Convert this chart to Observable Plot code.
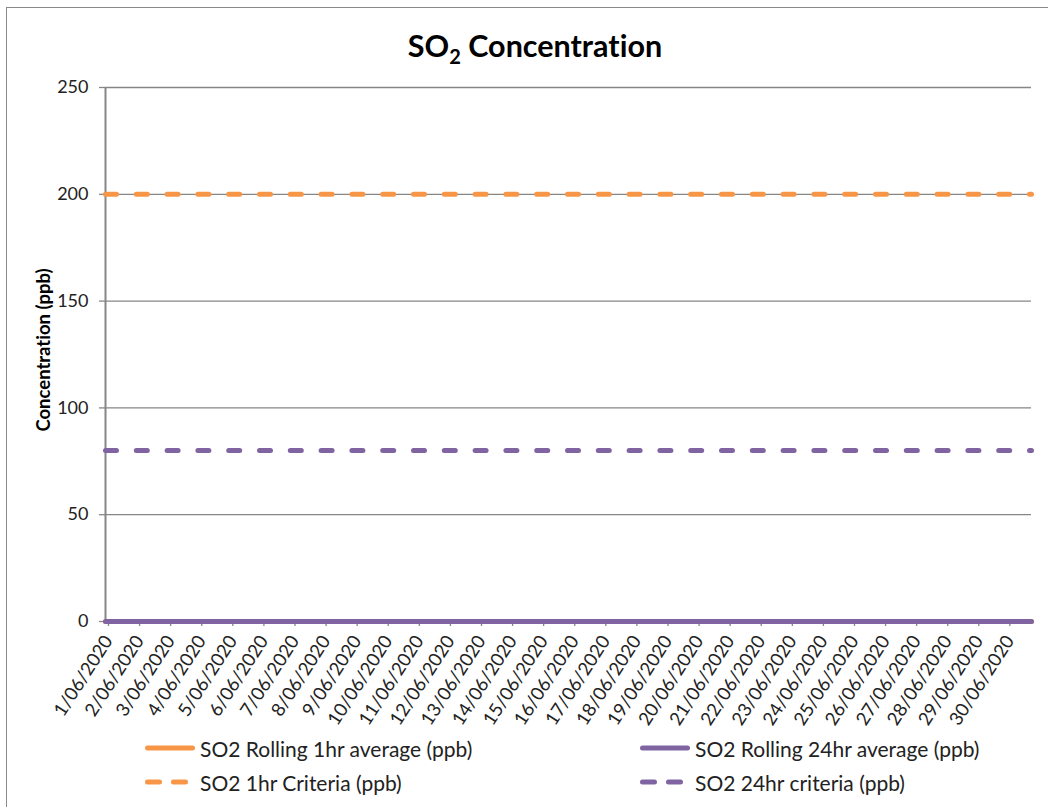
<!DOCTYPE html>
<html>
<head>
<meta charset="utf-8">
<script src="https://cdn.jsdelivr.net/npm/d3@7"></script>
<script src="https://cdn.jsdelivr.net/npm/@observablehq/plot@0.6"></script>
<style>
  html, body { margin:0; padding:0; background:#fff; overflow:hidden; }
  #wrap { position:relative; width:1048px; height:807px; overflow:hidden; font-family: Lato, "Open Sans", sans-serif; font-variant-ligatures:none; }
  #border { position:absolute; left:6px; top:7px; width:1200px; height:1000px; border:1.5px solid #8a8a8a; box-sizing:border-box; }
  #title { position:absolute; top:27px; left:535px; transform:translateX(-50%); font-size:30.5px; font-weight:bold; color:#000; white-space:nowrap; line-height:36px; }
  #title sub { font-size:20px; vertical-align:-7px; line-height:0; }
  #ylabel { position:absolute; left:43px; top:350px; transform:translate(-50%,-50%) rotate(-90deg); font-size:18.5px; font-weight:bold; color:#000; white-space:nowrap; }
  #chart { position:absolute; left:0; top:0; }
  #chart svg text { font-variant-ligatures:none; }
  .leg { position:absolute; display:flex; align-items:center; font-size:21px; color:#222; white-space:nowrap; }
  .leg svg { margin-right:5px; }
</style>
</head>
<body>
<div id="wrap">
  <div id="border"></div>
  <div id="title">SO<sub>2</sub> Concentration</div>
  <div id="chart"></div>
  <div id="ylabel"></div>
  <div id="legend"></div>
</div>
<script>
// ---- Data ----
const tickDays = ["2020-06-01","2020-06-02","2020-06-03","2020-06-04","2020-06-05","2020-06-06","2020-06-07","2020-06-08","2020-06-09","2020-06-10","2020-06-11","2020-06-12","2020-06-13","2020-06-14","2020-06-15","2020-06-16","2020-06-17","2020-06-18","2020-06-19","2020-06-20","2020-06-21","2020-06-22","2020-06-23","2020-06-24","2020-06-25","2020-06-26","2020-06-27","2020-06-28","2020-06-29","2020-06-30"];
const tickLabels = ["1/06/2020","2/06/2020","3/06/2020","4/06/2020","5/06/2020","6/06/2020","7/06/2020","8/06/2020","9/06/2020","10/06/2020","11/06/2020","12/06/2020","13/06/2020","14/06/2020","15/06/2020","16/06/2020","17/06/2020","18/06/2020","19/06/2020","20/06/2020","21/06/2020","22/06/2020","23/06/2020","24/06/2020","25/06/2020","26/06/2020","27/06/2020","28/06/2020","29/06/2020","30/06/2020"];
const times = ["2020-06-01T00:00","2020-06-02T00:00","2020-06-03T00:00","2020-06-04T00:00","2020-06-05T00:00","2020-06-06T00:00","2020-06-07T00:00","2020-06-08T00:00","2020-06-09T00:00","2020-06-10T00:00","2020-06-11T00:00","2020-06-12T00:00","2020-06-13T00:00","2020-06-14T00:00","2020-06-15T00:00","2020-06-16T00:00","2020-06-17T00:00","2020-06-18T00:00","2020-06-19T00:00","2020-06-20T00:00","2020-06-21T00:00","2020-06-22T00:00","2020-06-23T00:00","2020-06-24T00:00","2020-06-25T00:00","2020-06-26T00:00","2020-06-27T00:00","2020-06-28T00:00","2020-06-29T00:00","2020-06-30T00:00","2020-06-30T19:00"];
const rolling1hr  = [0,0,0,0,0,0,0,0,0,0,0,0,0,0,0,0,0,0,0,0,0,0,0,0,0,0,0,0,0,0,0];
const rolling24hr = [0,0,0,0,0,0,0,0,0,0,0,0,0,0,0,0,0,0,0,0,0,0,0,0,0,0,0,0,0,0,0];
const criteria1hr  = [200,200,200,200,200,200,200,200,200,200,200,200,200,200,200,200,200,200,200,200,200,200,200,200,200,200,200,200,200,200,200];
const criteria24hr = [80,80,80,80,80,80,80,80,80,80,80,80,80,80,80,80,80,80,80,80,80,80,80,80,80,80,80,80,80,80,80];
const yTicks = [0,50,100,150,200,250];
const seriesNames = ["SO2 Rolling 1hr average (ppb)","SO2 Rolling 24hr average (ppb)","SO2 1hr Criteria (ppb)","SO2 24hr criteria (ppb)"];
const yTitle = "Concentration (ppb)";

const ORANGE = "#F79646", PURPLE = "#8064A2", GRAY = "#868686";
const parse = s => new Date(s + "Z");
const tDates = tickDays.map(s => new Date(s + "T00:00Z"));
const rows = (vals) => times.map((t, i) => ({t: parse(t), v: vals[i]}));

const chart = Plot.plot({
  width: 1048, height: 807,
  marginLeft: 105, marginRight: 17, marginTop: 87, marginBottom: 186,
  style: {fontFamily: "Lato, 'Open Sans', sans-serif", fontSize: "18px", color: "#222", background: "transparent"},
  x: {type: "utc", domain: [parse(times[0]), parse(times[times.length - 1])]},
  y: {domain: [0, 250]},
  marks: [
    Plot.gridY(yTicks, {stroke: GRAY, strokeOpacity: 1, strokeWidth: 1.3}),
    Plot.ruleX([parse(times[0])], {y1: 0, y2: 250, stroke: GRAY, strokeWidth: 2}),
    Plot.axisY(yTicks, {tickSize: 6, tickPadding: 11, stroke: GRAY, strokeWidth: 1.3, fill: "#222", fontSize: 18, label: null}),
    Plot.axisX(tDates, {tickSize: 5, tickPadding: 11, tickRotate: -57, dx: 3, stroke: GRAY, strokeWidth: 1.3, fill: "#222", fontSize: 18.5,
      tickFormat: (d) => tickLabels[tDates.findIndex(x => +x === +d)], label: null}),
    Plot.line(rows(criteria24hr), {x: "t", y: "v", stroke: PURPLE, strokeWidth: 5, strokeDasharray: "11,19.8", strokeLinecap: "round"}),
    Plot.line(rows(criteria1hr), {x: "t", y: "v", stroke: ORANGE, strokeWidth: 5, strokeDasharray: "11,19.8", strokeLinecap: "round"}),
    Plot.line(rows(rolling1hr), {x: "t", y: "v", stroke: ORANGE, strokeWidth: 5}),
    Plot.line(rows(rolling24hr), {x: "t", y: "v", stroke: PURPLE, strokeWidth: 5})
  ]
});
document.getElementById("chart").appendChild(chart);
document.getElementById("ylabel").textContent = yTitle;

// ---- Legend ----
const legendItems = [
  {name: seriesNames[0], color: ORANGE, dash: null, x: 145, y: 748},
  {name: seriesNames[1], color: PURPLE, dash: null, x: 640, y: 748},
  {name: seriesNames[2], color: ORANGE, dash: "12,14", x: 145, y: 782},
  {name: seriesNames[3], color: PURPLE, dash: "12,14", x: 640, y: 782}
];
const leg = document.getElementById("legend");
for (const it of legendItems) {
  const d = document.createElement("div");
  d.className = "leg";
  d.style.left = it.x + "px";
  d.style.top = (it.y - 14) + "px";
  d.style.height = "28px";
  d.innerHTML = `<svg width="50" height="8"><line x1="2.5" y1="4" x2="47.5" y2="4" stroke="${it.color}" stroke-width="5" stroke-linecap="round" ${it.dash ? `stroke-dasharray="${it.dash}"` : ""}/></svg><span>${it.name}</span>`;
  leg.appendChild(d);
}
</script>
</body>
</html>
